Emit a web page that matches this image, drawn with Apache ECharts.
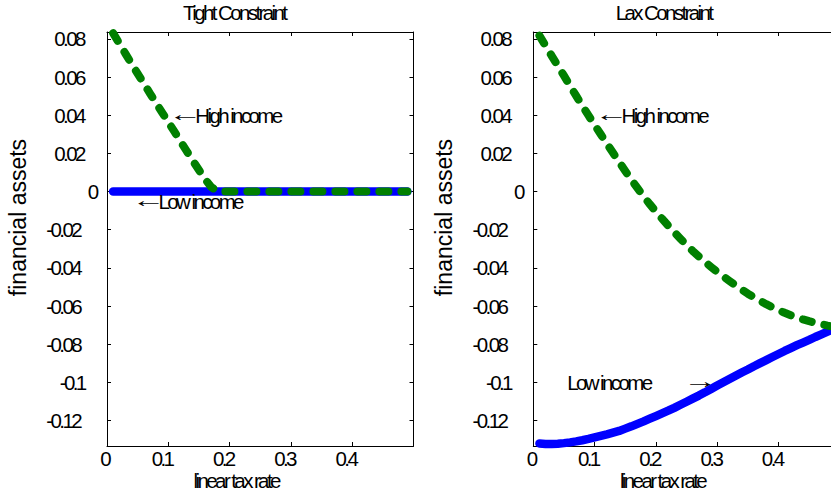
<!DOCTYPE html>
<html>
<head>
<meta charset="utf-8">
<script src="https://cdn.jsdelivr.net/npm/echarts@6/dist/echarts.min.js"></script>
<style>
html, body { margin: 0; padding: 0; background: #ffffff; }
#c { width: 831px; height: 490px; }
#c svg text[style*="24px"], #c svg text[style*="22px"] { font-size: 20.5px !important; letter-spacing: -2.6px !important; }
</style>
</head>
<body>
<div id="c"></div>
<script>
// ---- data ----
const taxRates = [0.01,0.02,0.03,0.04,0.05,0.06,0.07,0.08,0.09,0.10,
                  0.11,0.12,0.13,0.14,0.15,0.16,0.17,0.18,0.19,0.20,
                  0.21,0.22,0.23,0.24,0.25,0.26,0.27,0.28,0.29,0.30,
                  0.31,0.32,0.33,0.34,0.35,0.36,0.37,0.38,0.39,0.40,
                  0.41,0.42,0.43,0.44,0.45,0.46,0.47,0.48,0.49];

const tightLow = [0,0,0,0,0,0,0,0,0,0,
                  0,0,0,0,0,0,0,0,0,0,
                  0,0,0,0,0,0,0,0,0,0,
                  0,0,0,0,0,0,0,0,0,0,
                  0,0,0,0,0,0,0,0,0];

const tightHigh = [0.0830,0.0776,0.0723,0.0670,0.0618,0.0566,0.0515,0.0464,0.0414,0.0364,
                   0.0314,0.0262,0.0212,0.0162,0.0113,0.0065,0.0024,0.0002,0,0,
                   0,0,0,0,0,0,0,0,0,0,
                   0,0,0,0,0,0,0,0,0,0,
                   0,0,0,0,0,0,0,0,0];

const laxHigh = [0.0817,0.0764,0.0711,0.0659,0.0607,0.0554,0.0501,0.0449,0.0399,0.0349,
                 0.0300,0.0251,0.0203,0.0155,0.0108,0.0062,0.0018,-0.0025,-0.0066,-0.0105,
                 -0.0142,-0.0178,-0.0213,-0.0247,-0.0280,-0.0311,-0.0340,-0.0368,-0.0395,-0.0421,
                 -0.0445,-0.0468,-0.0492,-0.0514,-0.0535,-0.0554,-0.0572,-0.0590,-0.0606,-0.0621,
                 -0.0635,-0.0648,-0.0660,-0.0670,-0.0679,-0.0687,-0.0695,-0.0702,-0.0708];

const laxLow = [-0.1320,-0.1322,-0.1322,-0.1321,-0.1318,-0.1314,-0.1309,-0.1303,-0.1296,-0.1288,
                -0.1280,-0.1272,-0.1263,-0.1254,-0.1242,-0.1230,-0.1217,-0.1204,-0.1190,-0.1176,
                -0.1162,-0.1148,-0.1133,-0.1117,-0.1101,-0.1085,-0.1069,-0.1052,-0.1034,-0.1016,
                -0.0999,-0.0982,-0.0965,-0.0948,-0.0932,-0.0915,-0.0899,-0.0883,-0.0867,-0.0851,
                -0.0835,-0.0820,-0.0805,-0.0791,-0.0777,-0.0762,-0.0748,-0.0734,-0.0720];

const xTicks = [0, 0.1, 0.2, 0.3, 0.4];
const yTicks = [-0.12, -0.1, -0.08, -0.06, -0.04, -0.02, 0, 0.02, 0.04, 0.06, 0.08];

const panelTitles = ['Tight Constraint', 'Lax Constraint'];
const xName = 'linear tax rate';
const yName = 'financial assets';

const annotations = [
  { panel: 0, x: 0.10, y: 0.040,  arrow: '\u2190', label: 'High income', side: 'left' },
  { panel: 0, x: 0.04, y: -0.005, arrow: '\u2190', label: 'Low income',  side: 'left' },
  { panel: 1, x: 0.10, y: 0.040,  arrow: '\u2190', label: 'High income', side: 'left' },
  { panel: 1, x: 0.30, y: -0.100, arrow: '\u2192', label: 'Low income',  side: 'right' }
];

// ---- chart ----
const X_MIN = 0, X_MAX = 0.5;
const Y_MIN = -0.1333, Y_MAX = 0.0836;
const FONT = 'Liberation Sans, Arial, sans-serif';
const BLACK = '#000000';

const chart = echarts.init(document.getElementById('c'), null, { renderer: 'svg' });

const tok = (size) => ({ fontSize: size, fontFamily: FONT, color: BLACK, align: 'left' });
const fmt = (v) => '{t|' + String(Math.round(v * 100) / 100) + '}';

const grids = [
  { left: 107, top: 32, width: 306.5, height: 414, outerBoundsMode: 'none', containLabel: false },
  { left: 533.3, top: 32, width: 306.5, height: 414, outerBoundsMode: 'none', containLabel: false }
];

const lineSty = { color: BLACK, width: 1 };
const xAxes = [], yAxes = [];
grids.forEach((g, gi) => {
  xAxes.push({
    type: 'value', gridIndex: gi, position: 'bottom', min: X_MIN, max: X_MAX,
    axisLine: { show: true, onZero: false, lineStyle: lineSty },
    axisTick: { show: true, inside: true, length: 4, customValues: xTicks, lineStyle: lineSty },
    axisLabel: { show: true, margin: 0, customValues: xTicks, formatter: fmt, rich: { t: tok(24) } },
    splitLine: { show: false },
    name: '{t|' + xName + '}', nameLocation: 'middle', nameGap: 23, nameMoveOverlap: false,
    nameTextStyle: { rich: { t: tok(22) } }
  });
  xAxes.push({
    type: 'value', gridIndex: gi, position: 'top', min: X_MIN, max: X_MAX,
    axisLine: { show: true, onZero: false, lineStyle: lineSty },
    axisTick: { show: true, inside: true, length: 4, customValues: xTicks, lineStyle: lineSty },
    axisLabel: { show: false }, splitLine: { show: false }
  });
  yAxes.push({
    type: 'value', gridIndex: gi, position: 'left', min: Y_MIN, max: Y_MAX,
    axisLine: { show: true, onZero: false, lineStyle: lineSty },
    axisTick: { show: true, inside: true, length: 4, customValues: yTicks, lineStyle: lineSty },
    axisLabel: { show: true, margin: 6, customValues: yTicks, formatter: fmt, rich: { t: tok(24) } },
    splitLine: { show: false }
  });
  yAxes.push({
    type: 'value', gridIndex: gi, position: 'right', min: Y_MIN, max: Y_MAX,
    axisLine: { show: true, onZero: false, lineStyle: lineSty },
    axisTick: { show: true, inside: true, length: 4, customValues: yTicks, lineStyle: lineSty },
    axisLabel: { show: false }, splitLine: { show: false }
  });
});

const pairs = (ys) => taxRates.map((x, i) => [x, ys[i]]);
const lowStyle = { color: '#0000ff', width: 8.5, cap: 'round', join: 'round' };
const highStyle = { color: '#008000', width: 8, type: [9, 13], cap: 'round', join: 'round' };
const mk = (name, ys, gi, style) => ({
  name, type: 'line', xAxisIndex: gi * 2, yAxisIndex: gi * 2, data: pairs(ys),
  symbol: 'none', showSymbol: false, lineStyle: style, silent: true, animation: false
});

chart.setOption({
  animation: false,
  backgroundColor: '#ffffff',
  grid: grids,
  xAxis: xAxes,
  yAxis: yAxes,
  series: [
    mk('Low income', tightLow, 0, lowStyle),
    mk('High income', tightHigh, 0, highStyle),
    mk('Low income', laxLow, 1, lowStyle),
    mk('High income', laxHigh, 1, highStyle)
  ]
});

// ---- texts placed from data coordinates ----
const graphics = [];
grids.forEach((g, gi) => {
  const cx = chart.convertToPixel({ gridIndex: gi }, [(X_MIN + X_MAX) / 2, 0])[0];
  const left = chart.convertToPixel({ gridIndex: gi }, [X_MIN, 0])[0];
  graphics.push({
    type: 'text', x: cx, y: 12.5, silent: true, z: 100,
    style: { text: '{t|' + panelTitles[gi] + '}', rich: { t: { fontSize: 22, fontFamily: FONT, fill: BLACK, align: 'left' } },
             align: 'center', verticalAlign: 'middle', textAlign: 'center', textVerticalAlign: 'middle' }
  });
  graphics.push({
    type: 'text', x: left - 89, y: 217.5, rotation: Math.PI / 2, silent: true, z: 100,
    style: { text: yName, font: '23px ' + FONT, fill: BLACK,
             align: 'center', verticalAlign: 'middle', textAlign: 'center', textVerticalAlign: 'middle' }
  });
});
annotations.forEach((a) => {
  const p = chart.convertToPixel({ gridIndex: a.panel }, [a.x, a.y]);
  const isLeft = a.side === 'left';
  graphics.push({
    type: 'text', x: p[0], y: p[1] - 1, scaleX: 1.7, silent: true, z: 100,
    style: { text: a.arrow, font: '20px ' + FONT, fill: BLACK,
             align: isLeft ? 'left' : 'right', textAlign: isLeft ? 'left' : 'right',
             verticalAlign: 'middle', textVerticalAlign: 'middle' }
  });
  graphics.push({
    type: 'text', x: p[0] + (isLeft ? 27 : -150), y: p[1], silent: true, z: 100,
    style: { text: a.label, font: '24px ' + FONT, fill: BLACK,
             align: 'left', textAlign: 'left', verticalAlign: 'middle', textVerticalAlign: 'middle' }
  });
});
chart.setOption({ graphic: graphics });
</script>
</body>
</html>
